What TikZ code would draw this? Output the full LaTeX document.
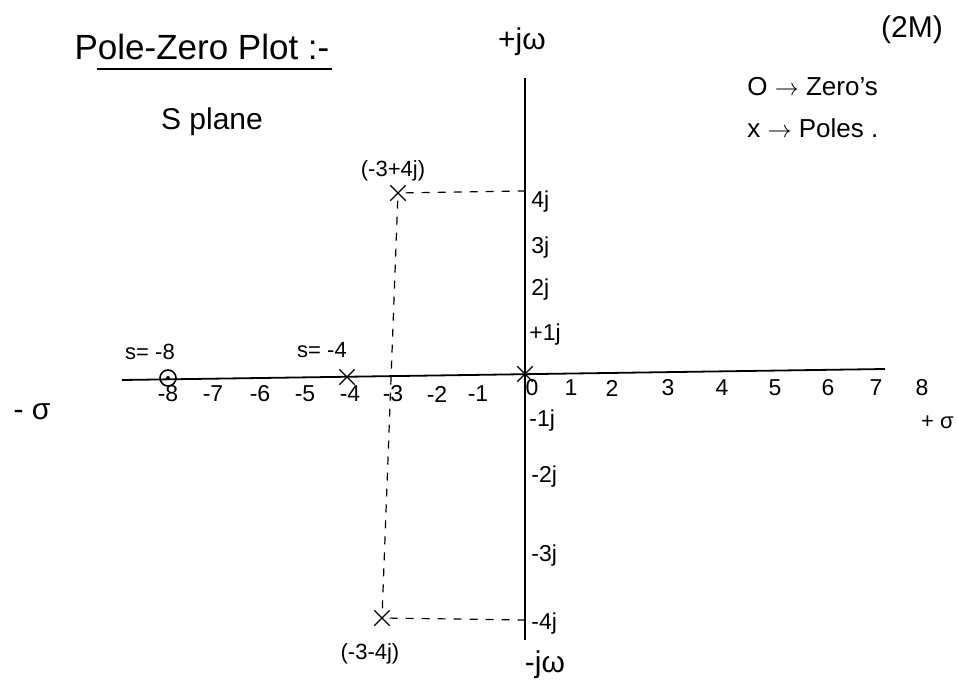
\documentclass[tikz,border=0pt]{standalone}
\usepackage{fontspec}
\setmainfont{Liberation Sans}
\usetikzlibrary{shapes.misc}
\begin{document}
\begin{tikzpicture}[x=0.5pt,y=-0.5pt,
  axis/.style={line width=0.9pt},
  guide/.style={line width=0.6pt,dash pattern=on 4pt off 4pt},
  pole/.style={cross out,draw,line width=0.7pt,minimum size=7pt,inner sep=0pt},
  zero/.style={circle,draw,line width=0.8pt,minimum size=8pt,inner sep=0pt},
  tick/.style={font=\fontsize{11.5}{13}\selectfont,inner sep=1pt},
  lbl/.style={font=\fontsize{11}{13}\selectfont,inner sep=1pt},
  leg/.style={font=\fontsize{13}{15}\selectfont,inner sep=1pt},
  big/.style={font=\fontsize{15}{18}\selectfont,inner sep=1pt},
  ttl/.style={font=\fontsize{17.5}{20}\selectfont,inner sep=1pt}]
\useasboundingbox (0,0) rectangle (958,684);
% axes
\coordinate (xl) at (122,380);
\coordinate (xr) at (885,369);
\coordinate (yt) at (525,78);
\coordinate (yb) at (525,640);
\draw[axis] (xl) -- (xr);
\draw[axis] (yt) -- (yb);
% poles and zero
\node[zero] (z8) at (168,378) {};
\fill (z8.center) circle (1pt);
\node[pole] (p4) at (347,377) {};
\node[pole] (p0) at (525,374) {};
\node[pole] (pu) at (398,193) {};
\node[pole] (pd) at (382,618) {};
\coordinate (a4) at (525,191);
\coordinate (am4) at (525,620);
\draw[guide] (pu) -- (a4);
\draw[guide] (pu) -- (pd);
\draw[guide] (pd) -- (am4);
% tick labels on real axis
\foreach \v/\x in {-8/168,-7/213,-6/260,-5/305,-4/350,-3/393,-2/437,-1/478}
  \node[tick] (t\v) at (\x,394) {\v};
\foreach \v/\x in {0/532,1/571,2/612,3/668,4/722,5/775,6/828,7/876,8/922}
  \node[tick] (u\v) at (\x,388) {\v};
% tick labels on imaginary axis
\node[tick,anchor=west] (j4) at (529,202) {4j};
\node[tick,anchor=west] (j3) at (529,248) {3j};
\node[tick,anchor=west] (j2) at (529,290) {2j};
\node[tick,anchor=west] (j1) at (527,335) {+1j};
\node[tick,anchor=west] (jm1) at (527,421) {-1j};
\node[tick,anchor=west] (jm2) at (529,477) {-2j};
\node[tick,anchor=west] (jm3) at (529,556) {-3j};
\node[tick,anchor=west] (jm4) at (529,624) {-4j};
% pole labels
\node[lbl] (lu) at (393,171) {(-3+4j)};
\node[lbl] (ld) at (370,654) {(-3-4j)};
\node[lbl] (s8) at (150,352) {s= -8};
\node[lbl] (s4) at (322,350) {s= -4};
% axis names
\node[big] (jwp) at (522,42) {+jω};
\node[big] (jwm) at (545,665) {-jω};
\node[big] (sm) at (32,412) {- σ};
\node[lbl,anchor=east] (sp) at (956,422) {+ σ};
% titles
\node[ttl] (title) at (202,47) {Pole-Zero Plot :-};
\draw[line width=0.7pt] (97,69) -- (332,69);
\node[big] (splane) at (212,122) {S plane};
\node[big] (mark) at (912,30) {(2M)};
\node[leg,anchor=west] (lz) at (745,87) {O $\rightarrow$ Zero's};
\node[leg,anchor=west] (lp) at (745,128) {x $\rightarrow$ Poles .};
\end{tikzpicture}
\end{document}
